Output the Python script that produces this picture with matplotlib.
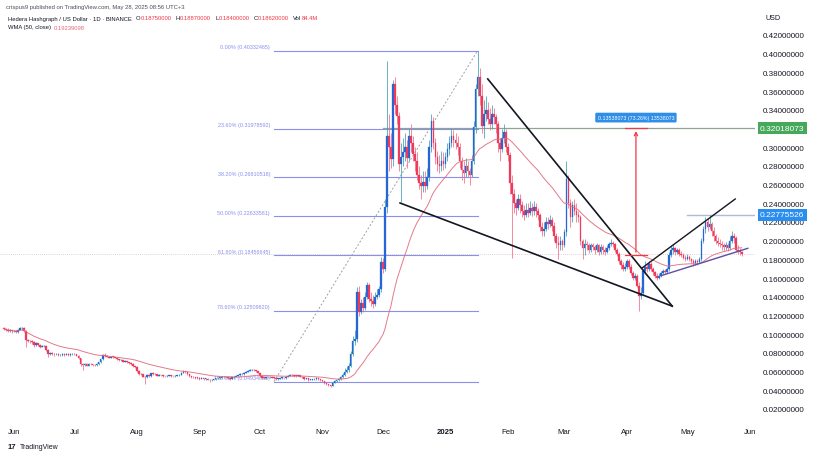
import numpy as np
import pandas as pd
import matplotlib
matplotlib.use("Agg")
import matplotlib.pyplot as plt
import matplotlib.dates as mdates
import matplotlib.transforms as mtransforms

plt.rcParams['font.family'] = ['Liberation Sans', 'DejaVu Sans']

# HBAR/USD daily candles, 2024-05-27 .. 2025-05-28 (open = previous close)
first_open = 0.1068
closes = [
    0.1058, 0.1050, 0.1035, 0.1040, 0.1030,  # May 27-31
    0.1032, 0.1025, 0.1045, 0.1062, 0.1065, 0.1030, 0.0935, 0.0930, 0.0925, 0.0915,
    0.0880, 0.0905, 0.0880, 0.0868, 0.0872, 0.0875, 0.0835, 0.0790, 0.0800, 0.0790,
    0.0785, 0.0790, 0.0775, 0.0780, 0.0788, 0.0782, 0.0790, 0.0780, 0.0785, 0.0792,  # Jun
    0.0785, 0.0770, 0.0745, 0.0680, 0.0670, 0.0685, 0.0665, 0.0680, 0.0678, 0.0670,
    0.0668, 0.0680, 0.0700, 0.0730, 0.0775, 0.0772, 0.0760, 0.0750, 0.0760, 0.0755,
    0.0750, 0.0735, 0.0720, 0.0725, 0.0705, 0.0712, 0.0700, 0.0690, 0.0685, 0.0660, 0.0645,  # Jul
    0.0610, 0.0575, 0.0570, 0.0545, 0.0540, 0.0565, 0.0550, 0.0585, 0.0575, 0.0570,
    0.0555, 0.0562, 0.0560, 0.0552, 0.0548, 0.0553, 0.0556, 0.0552, 0.0550, 0.0555,
    0.0560, 0.0565, 0.0585, 0.0600, 0.0595, 0.0570, 0.0548, 0.0545, 0.0540, 0.0535, 0.0530,  # Aug
    0.0525, 0.0530, 0.0520, 0.0525, 0.0515, 0.0505, 0.0512, 0.0518, 0.0528, 0.0530,
    0.0535, 0.0540, 0.0545, 0.0540, 0.0532, 0.0525, 0.0538, 0.0545, 0.0555, 0.0560,
    0.0575, 0.0570, 0.0585, 0.0600, 0.0610, 0.0615, 0.0620, 0.0612, 0.0605, 0.0585,  # Sep
    0.0550, 0.0535, 0.0530, 0.0540, 0.0538, 0.0545, 0.0535, 0.0530, 0.0520, 0.0525,
    0.0530, 0.0532, 0.0528, 0.0545, 0.0555, 0.0565, 0.0560, 0.0555, 0.0552, 0.0560,
    0.0545, 0.0540, 0.0525, 0.0530, 0.0510, 0.0515, 0.0518, 0.0520, 0.0530, 0.0522, 0.0505,  # Oct
    0.0495, 0.0480, 0.0465, 0.0455, 0.0450, 0.0480, 0.0500, 0.0505, 0.0520, 0.0545,
    0.0560, 0.0600, 0.0620, 0.0660, 0.0790, 0.0930, 0.0950, 0.1450, 0.1240, 0.1330,
    0.1280, 0.1400, 0.1530, 0.1380, 0.1360, 0.1320, 0.1400, 0.1420, 0.1480, 0.1770,  # Nov
    0.1700, 0.2360, 0.3120, 0.3000, 0.2870, 0.3680, 0.3450, 0.3330, 0.2820, 0.2900,
    0.2950, 0.3000, 0.2880, 0.3120, 0.3050, 0.2930, 0.2850, 0.2700, 0.2620, 0.2580,
    0.2630, 0.2580, 0.2680, 0.3000, 0.3280, 0.3050, 0.2900, 0.2820, 0.2800, 0.2850, 0.2820,  # Dec
    0.2900, 0.2980, 0.3050, 0.3120, 0.3080, 0.3050, 0.3000, 0.2850, 0.2760, 0.2720,
    0.2800, 0.2750, 0.2700, 0.2850, 0.3220, 0.3620, 0.3750, 0.3550, 0.3230, 0.3350,
    0.3400, 0.3300, 0.3250, 0.3360, 0.3320, 0.3250, 0.3050, 0.2980, 0.3100, 0.3160, 0.3000,  # Jan
    0.2920, 0.2620, 0.2500, 0.2400, 0.2350, 0.2450, 0.2380, 0.2320, 0.2280, 0.2330,
    0.2300, 0.2350, 0.2320, 0.2360, 0.2320, 0.2280, 0.2150, 0.2100, 0.2130, 0.2200,
    0.2180, 0.2220, 0.2160, 0.2050, 0.1980, 0.1950, 0.2000, 0.1950,  # Feb
    0.2090, 0.2660, 0.2400, 0.2250, 0.2380, 0.2320, 0.2280, 0.2250, 0.2000, 0.1920,
    0.1970, 0.1950, 0.1900, 0.1950, 0.1930, 0.1900, 0.1950, 0.1880, 0.1930, 0.1900,
    0.1880, 0.1920, 0.1970, 0.1980, 0.1960, 0.1900, 0.1860, 0.1780, 0.1740, 0.1700, 0.1720,  # Mar
    0.1780, 0.1720, 0.1650, 0.1600, 0.1620, 0.1520, 0.1410, 0.1440, 0.1680, 0.1720,
    0.1700, 0.1750, 0.1700, 0.1660, 0.1620, 0.1600, 0.1620, 0.1650, 0.1680, 0.1660,
    0.1700, 0.1850, 0.1900, 0.1920, 0.1880, 0.1900, 0.1860, 0.1850, 0.1820, 0.1800,  # Apr
    0.1830, 0.1800, 0.1780, 0.1760, 0.1780, 0.1770, 0.1800, 0.2000, 0.2120, 0.2200,
    0.2150, 0.2180, 0.2100, 0.2050, 0.2000, 0.1980, 0.1970, 0.1950, 0.1930, 0.1950,
    0.1920, 0.2000, 0.2050, 0.2030, 0.1900, 0.1890, 0.1875, 0.1862,  # May
]
highs = [
    0.1080, 0.1070, 0.1062, 0.1052, 0.1050,
    0.1045, 0.1040, 0.1055, 0.1075, 0.1080, 0.1072, 0.1040, 0.0950, 0.0942, 0.0935,
    0.0925, 0.0918, 0.0910, 0.0890, 0.0885, 0.0888, 0.0880, 0.0840, 0.0812, 0.0808,
    0.0800, 0.0802, 0.0795, 0.0792, 0.0798, 0.0795, 0.0800, 0.0795, 0.0795, 0.0802,
    0.0800, 0.0792, 0.0775, 0.0750, 0.0690, 0.0695, 0.0690, 0.0688, 0.0690, 0.0685,
    0.0680, 0.0688, 0.0705, 0.0738, 0.0790, 0.0795, 0.0778, 0.0768, 0.0768, 0.0765,
    0.0760, 0.0755, 0.0740, 0.0735, 0.0728, 0.0720, 0.0715, 0.0705, 0.0698, 0.0690, 0.0665,
    0.0655, 0.0618, 0.0590, 0.0575, 0.0552, 0.0575, 0.0572, 0.0590, 0.0592, 0.0582,
    0.0575, 0.0570, 0.0568, 0.0565, 0.0558, 0.0560, 0.0562, 0.0560, 0.0558, 0.0560,
    0.0565, 0.0570, 0.0592, 0.0615, 0.0608, 0.0598, 0.0575, 0.0555, 0.0552, 0.0545, 0.0542,
    0.0538, 0.0540, 0.0535, 0.0535, 0.0530, 0.0522, 0.0520, 0.0525, 0.0535, 0.0538,
    0.0542, 0.0548, 0.0552, 0.0550, 0.0545, 0.0538, 0.0545, 0.0552, 0.0562, 0.0568,
    0.0582, 0.0580, 0.0592, 0.0610, 0.0622, 0.0630, 0.0632, 0.0625, 0.0618, 0.0610,
    0.0590, 0.0555, 0.0542, 0.0545, 0.0545, 0.0550, 0.0548, 0.0540, 0.0535, 0.0532,
    0.0535, 0.0538, 0.0535, 0.0550, 0.0562, 0.0575, 0.0570, 0.0565, 0.0560, 0.0565,
    0.0562, 0.0550, 0.0545, 0.0535, 0.0532, 0.0522, 0.0525, 0.0528, 0.0540, 0.0535, 0.0525,
    0.0512, 0.0500, 0.0485, 0.0470, 0.0462, 0.0490, 0.0510, 0.0515, 0.0530, 0.0555,
    0.0585, 0.0640, 0.0660, 0.0690, 0.0820, 0.0980, 0.1050, 0.1500, 0.1520, 0.1380,
    0.1400, 0.1450, 0.1560, 0.1550, 0.1450, 0.1420, 0.1450, 0.1480, 0.1520, 0.1830,
    0.1820, 0.2450, 0.3920, 0.3350, 0.3150, 0.3720, 0.3750, 0.3550, 0.3380, 0.3050,
    0.3100, 0.3150, 0.3080, 0.3200, 0.3250, 0.3120, 0.3000, 0.2950, 0.2800, 0.2700,
    0.2750, 0.2750, 0.2780, 0.3080, 0.3350, 0.3320, 0.3100, 0.2960, 0.2920, 0.2960, 0.2950,
    0.2950, 0.3050, 0.3120, 0.3200, 0.3180, 0.3150, 0.3120, 0.3050, 0.2900, 0.2850,
    0.2880, 0.2850, 0.2780, 0.2920, 0.3280, 0.3680, 0.4033, 0.3850, 0.3680, 0.3500,
    0.3550, 0.3480, 0.3420, 0.3450, 0.3420, 0.3350, 0.3280, 0.3100, 0.3200, 0.3250, 0.3200,
    0.3050, 0.2950, 0.2700, 0.2550, 0.2450, 0.2500, 0.2500, 0.2420, 0.2380, 0.2400,
    0.2400, 0.2420, 0.2400, 0.2420, 0.2400, 0.2350, 0.2300, 0.2200, 0.2200, 0.2250,
    0.2250, 0.2280, 0.2250, 0.2200, 0.2080, 0.2050, 0.2050, 0.2020,
    0.2120, 0.2850, 0.2700, 0.2450, 0.2420, 0.2450, 0.2400, 0.2320, 0.2280, 0.2020,
    0.2020, 0.2000, 0.1980, 0.1980, 0.1980, 0.1950, 0.1980, 0.1960, 0.1960, 0.1950,
    0.1930, 0.1950, 0.1990, 0.2020, 0.2000, 0.1980, 0.1920, 0.1880, 0.1800, 0.1770, 0.1760,
    0.1800, 0.1800, 0.1750, 0.1680, 0.1650, 0.1640, 0.1560, 0.1500, 0.1700, 0.1780,
    0.1750, 0.1780, 0.1770, 0.1720, 0.1680, 0.1650, 0.1650, 0.1680, 0.1700, 0.1700,
    0.1720, 0.1880, 0.1950, 0.1960, 0.1930, 0.1920, 0.1920, 0.1890, 0.1870, 0.1850,
    0.1860, 0.1850, 0.1820, 0.1800, 0.1800, 0.1800, 0.1830, 0.2030, 0.2160, 0.2250,
    0.2240, 0.2278, 0.2200, 0.2150, 0.2070, 0.2040, 0.2020, 0.2000, 0.1980, 0.1990,
    0.1980, 0.2050, 0.2100, 0.2080, 0.2050, 0.1950, 0.1920, 0.1887,
]
lows = [
    0.1045, 0.1038, 0.1022, 0.1025, 0.1015,
    0.1020, 0.1012, 0.1018, 0.1040, 0.1050, 0.1022, 0.0860, 0.0912, 0.0910, 0.0900,
    0.0868, 0.0872, 0.0870, 0.0855, 0.0860, 0.0862, 0.0825, 0.0755, 0.0780, 0.0778,
    0.0772, 0.0778, 0.0765, 0.0768, 0.0772, 0.0772, 0.0778, 0.0770, 0.0772, 0.0780,
    0.0775, 0.0762, 0.0738, 0.0665, 0.0620, 0.0660, 0.0658, 0.0660, 0.0668, 0.0662,
    0.0658, 0.0662, 0.0675, 0.0695, 0.0725, 0.0760, 0.0752, 0.0742, 0.0745, 0.0745,
    0.0742, 0.0728, 0.0712, 0.0712, 0.0698, 0.0700, 0.0692, 0.0682, 0.0675, 0.0652, 0.0635,
    0.0600, 0.0568, 0.0562, 0.0538, 0.0470, 0.0530, 0.0540, 0.0545, 0.0568, 0.0562,
    0.0548, 0.0550, 0.0552, 0.0545, 0.0540, 0.0545, 0.0548, 0.0545, 0.0542, 0.0545,
    0.0550, 0.0555, 0.0560, 0.0580, 0.0588, 0.0565, 0.0540, 0.0535, 0.0530, 0.0525, 0.0520,
    0.0515, 0.0518, 0.0512, 0.0515, 0.0508, 0.0490, 0.0500, 0.0508, 0.0512, 0.0520,
    0.0525, 0.0530, 0.0535, 0.0532, 0.0522, 0.0515, 0.0520, 0.0532, 0.0540, 0.0550,
    0.0555, 0.0562, 0.0565, 0.0580, 0.0595, 0.0602, 0.0608, 0.0605, 0.0598, 0.0580,
    0.0540, 0.0525, 0.0520, 0.0525, 0.0530, 0.0535, 0.0528, 0.0522, 0.0512, 0.0515,
    0.0520, 0.0525, 0.0520, 0.0525, 0.0540, 0.0550, 0.0552, 0.0545, 0.0545, 0.0548,
    0.0538, 0.0532, 0.0515, 0.0518, 0.0500, 0.0505, 0.0510, 0.0512, 0.0515, 0.0515, 0.0495,
    0.0485, 0.0470, 0.0455, 0.0442, 0.0435, 0.0445, 0.0475, 0.0490, 0.0500, 0.0515,
    0.0535, 0.0550, 0.0585, 0.0600, 0.0650, 0.0770, 0.0880, 0.0920, 0.1200, 0.1220,
    0.1240, 0.1260, 0.1380, 0.1340, 0.1300, 0.1280, 0.1300, 0.1380, 0.1400, 0.1450,
    0.1650, 0.1680, 0.2300, 0.2750, 0.2780, 0.2800, 0.3350, 0.3250, 0.2750, 0.2410,
    0.2800, 0.2850, 0.2780, 0.2850, 0.2950, 0.2850, 0.2750, 0.2650, 0.2550, 0.2450,
    0.2520, 0.2520, 0.2550, 0.2640, 0.2950, 0.2980, 0.2820, 0.2750, 0.2720, 0.2750, 0.2760,
    0.2780, 0.2850, 0.2920, 0.3000, 0.3000, 0.2980, 0.2920, 0.2780, 0.2650, 0.2620,
    0.2680, 0.2680, 0.2600, 0.2680, 0.2820, 0.3150, 0.3550, 0.3450, 0.3150, 0.3100,
    0.3280, 0.3250, 0.3180, 0.3200, 0.3250, 0.3150, 0.2950, 0.2850, 0.2950, 0.3050, 0.2950,
    0.2850, 0.2500, 0.1820, 0.2300, 0.2280, 0.2330, 0.2300, 0.2250, 0.2220, 0.2250,
    0.2250, 0.2270, 0.2260, 0.2280, 0.2250, 0.2220, 0.2100, 0.2050, 0.2050, 0.2100,
    0.2120, 0.2150, 0.2100, 0.2000, 0.1920, 0.1800, 0.1900, 0.1900,
    0.1930, 0.2050, 0.2350, 0.2150, 0.2200, 0.2280, 0.2200, 0.2200, 0.1950, 0.1800,
    0.1850, 0.1900, 0.1870, 0.1880, 0.1900, 0.1860, 0.1880, 0.1850, 0.1860, 0.1860,
    0.1850, 0.1870, 0.1900, 0.1940, 0.1930, 0.1880, 0.1840, 0.1750, 0.1700, 0.1680, 0.1680,
    0.1700, 0.1700, 0.1630, 0.1580, 0.1580, 0.1500, 0.1250, 0.1380, 0.1420, 0.1640,
    0.1660, 0.1680, 0.1680, 0.1630, 0.1600, 0.1580, 0.1590, 0.1610, 0.1640, 0.1640,
    0.1650, 0.1680, 0.1830, 0.1860, 0.1850, 0.1860, 0.1840, 0.1830, 0.1800, 0.1780,
    0.1790, 0.1780, 0.1760, 0.1730, 0.1740, 0.1740, 0.1760, 0.1780, 0.1980, 0.2080,
    0.2100, 0.2120, 0.2050, 0.2000, 0.1960, 0.1940, 0.1930, 0.1900, 0.1890, 0.1900,
    0.1890, 0.1900, 0.1980, 0.1980, 0.1880, 0.1860, 0.1850, 0.1840,
]

# fibonacci retracement (swing low -> Jan 17 high)
fib_high = 0.40332465
fib_low = 0.04934698
fib_levels = [0.0, 0.236, 0.382, 0.5, 0.618, 0.786, 1.0]
fib_start, fib_end = "2024-10-08", "2025-01-17"

# drawings: (date, price)
wedge_upper = [("2025-01-22", 0.373), ("2025-04-23 12:00", 0.130)]
wedge_lower = [("2024-12-09 12:00", 0.2403), ("2025-04-23 12:00", 0.130)]
rise_upper = [("2025-04-08 12:00", 0.1708), ("2025-05-24 18:00", 0.2446)]
rise_lower = [("2025-04-18", 0.1626), ("2025-05-31", 0.1919)]
target_price = 0.32018073
range_start = 0.18480000
range_date = "2025-04-05 12:00"
range_span = ("2025-03-31", "2025-04-11")
high_line_price = 0.22775526
high_line_start = "2025-05-01"

month_ticks = pd.date_range("2024-06-01", "2025-06-01", freq="MS")
month_labels = ['Jun', 'Jul', 'Aug', 'Sep', 'Oct', 'Nov', 'Dec', '2025',
                'Feb', 'Mar', 'Apr', 'May', 'Jun']


def wma(values, n):
    out = []
    for i in range(len(values)):
        w = np.array(values[max(0, i - n + 1):i + 1])
        k = np.arange(1, len(w) + 1)
        out.append(np.dot(w, k) / k.sum())
    return np.array(out)


n = min(len(closes), len(highs), len(lows))
c = np.array(closes[:n])
o = np.array([first_open] + closes[:n - 1])
h = np.maximum(np.array(highs[:n]), np.maximum(o, c))
l = np.minimum(np.array(lows[:n]), np.minimum(o, c))
dates = pd.date_range("2024-05-27", periods=n, freq="D")
x = mdates.date2num(dates)
up = c >= o
wma50 = wma(list(c), 50)

UP_BODY, UP_WICK = '#2466d8', '#3f9fb0'
DN_BODY, DN_WICK = '#ee3a5b', '#f26a86'
TXT = '#131722'
FIB = '#8890ee'

fig = plt.figure(figsize=(8.19, 4.56), dpi=100)
ax = fig.add_axes([0, 31 / 456, 755 / 819, 425 / 456])
ax.set_facecolor('white')
for s in ax.spines.values():
    s.set_visible(False)

d0 = mdates.date2num(pd.Timestamp("2024-06-01"))
ax.set_xlim(d0 - 14 / 2.016, d0 + 741 / 2.016)
ax.set_ylim(0.42 - 389 / 935, 0.42 + 36 / 935)

# fib levels
fs, fe = mdates.date2num(pd.Timestamp(fib_start)), mdates.date2num(pd.Timestamp(fib_end))
lab_tr = mtransforms.offset_copy(ax.transData, fig=fig, x=-4, y=4, units='dots')
for lv in fib_levels:
    p = fib_high - lv * (fib_high - fib_low)
    ax.plot([fs, fe], [p, p], color=FIB, lw=0.8, zorder=2)
    ax.text(fs, p, f"{lv * 100:.2f}% ({p:.8f})", transform=lab_tr, ha='right', va='center',
            fontsize=3.9, color=FIB, zorder=2)
ax.plot([fs, fe], [fib_low, fib_high], color='#9aa0a6', lw=0.7, ls=(0, (2, 2)), zorder=2)

# current price line
ax.axhline(c[-1], color='#d8c0c6', lw=0.6, ls=(0, (1, 1.5)), zorder=1)

# candles
ax.vlines(x[up], l[up], h[up], colors=UP_WICK, lw=0.55, zorder=3)
ax.vlines(x[~up], l[~up], h[~up], colors=DN_WICK, lw=0.55, zorder=3)
body = np.maximum(np.abs(c - o), 0.0007)
ax.bar(x[up], body[up], bottom=np.minimum(o, c)[up], width=0.8, color=UP_BODY,
       edgecolor=UP_BODY, linewidth=0.2, zorder=4)
ax.bar(x[~up], body[~up], bottom=np.minimum(o, c)[~up], width=0.8, color=DN_BODY,
       edgecolor=DN_BODY, linewidth=0.2, zorder=4)

# WMA 50
ax.plot(x, wma50, color='#e06c7c', lw=0.7, alpha=0.9, zorder=5)


def seg(pts, **kw):
    xs = [mdates.date2num(pd.Timestamp(d)) for d, _ in pts]
    ys = [v for _, v in pts]
    ax.plot(xs, ys, **kw)


seg(wedge_upper, color='#131722', lw=1.2, zorder=6)
seg(wedge_lower, color='#131722', lw=1.2, zorder=6)
seg(rise_upper, color='#131722', lw=1.0, zorder=6)
seg(rise_lower, color='#5b4fa8', lw=1.0, zorder=6)

# target line and price range arrow
ax.plot([mdates.date2num(pd.Timestamp("2024-12-01")), ax.get_xlim()[1]],
        [target_price, target_price], color='#8fa592', lw=0.9, zorder=2)
ax.plot([mdates.date2num(pd.Timestamp(high_line_start)), ax.get_xlim()[1]],
        [high_line_price, high_line_price], color='#a9bcd8', lw=1.0, zorder=2)
rx = mdates.date2num(pd.Timestamp(range_date))
r0, r1 = [mdates.date2num(pd.Timestamp(d)) for d in range_span]
ax.plot([r0, r1], [range_start, range_start], color='#f23645', lw=0.9, zorder=6)
ax.plot([r0, r1], [target_price, target_price], color='#f23645', lw=0.9, zorder=6)
ax.annotate('', xy=(rx, target_price), xytext=(rx, range_start),
            arrowprops=dict(arrowstyle='->', color='#f23645', lw=0.9, mutation_scale=6),
            zorder=6)
diff = target_price - range_start
ax.text(rx, target_price + 0.0115,
        f"{diff:.8f} ({diff / range_start * 100:.2f}%) {int(round(diff * 1e8))}",
        ha='center', va='center', fontsize=3.8, color='white', zorder=7,
        bbox=dict(boxstyle='round,pad=0.45,rounding_size=0.25', fc='#2f8ee8', ec='none'))

# price scale
yt = [round(v, 2) for v in np.arange(0.02, 0.4201, 0.02) if abs(v - 0.32) > 1e-6]
ax.yaxis.tick_right()
ax.set_yticks(yt)
ax.set_yticklabels([f"{v:.8f}" for v in yt])
ax.tick_params(axis='y', length=0, pad=5.5, labelsize=5.8, labelcolor=TXT)
ax.set_xticks(mdates.date2num(month_ticks))
ax.set_xticklabels(month_labels)
ax.tick_params(axis='x', length=0, pad=3, labelsize=5.6, labelcolor=TXT)
for t in ax.get_xticklabels():
    if t.get_text() == '2025':
        t.set_fontweight('bold')

bx = mtransforms.blended_transform_factory(ax.transAxes, ax.transData)
for price, col in [(target_price, '#45a85a'), (high_line_price, '#2a8ef0')]:
    ax.text(1 + 5 / 755, price, f"{price:.8f}", transform=bx, ha='left', va='center',
            fontsize=6.0, color='white', clip_on=False, zorder=8,
            bbox=dict(boxstyle='square,pad=0.3', fc=col, ec='none'))
fig.text(766 / 819, 1 - 19 / 456, "USD", fontsize=5.2, color=TXT, va='center')

# header
fig.canvas.draw()
rend = fig.canvas.get_renderer()


def line(parts, x0, ypix, size):
    xp = x0
    for s, col, gap in parts:
        t = fig.text(xp / 819, 1 - ypix / 456, s, color=col, fontsize=size, va='center')
        xp += t.get_window_extent(renderer=rend).width + gap


red = '#f23645'
line([("crispus9 published on TradingView.com, May 28, 2025 08:56 UTC+3", '#4a4e5a', 0)], 6, 7, 4.2)
line([("Hedera Hashgraph / US Dollar \u00b7 1D \u00b7 BINANCE", TXT, 4),
      ("O", TXT, 0.3), (f"{o[-1]:.8f}", red, 4), ("H", TXT, 0.3), (f"{h[-1]:.8f}", red, 4),
      ("L", TXT, 0.3), (f"{l[-1]:.8f}", red, 4), ("C", TXT, 0.3), (f"{c[-1]:.8f}", red, 4),
      ("Vol", TXT, 0.3), ("84.4M", red, 0)], 8, 19, 4.2)
line([("WMA (50, close)", TXT, 3), (f"{wma50[-1]:.8f}", '#e06c7c', 0)], 8, 28, 4.2)

fig.text(8 / 819, 1 - 448 / 456, "17", fontsize=5.5, fontweight='bold', color=TXT, va='center')
fig.text(20 / 819, 1 - 448 / 456, "TradingView", fontsize=5.0, color=TXT, va='center')

fig.savefig("out.png", dpi=100, facecolor='white')
